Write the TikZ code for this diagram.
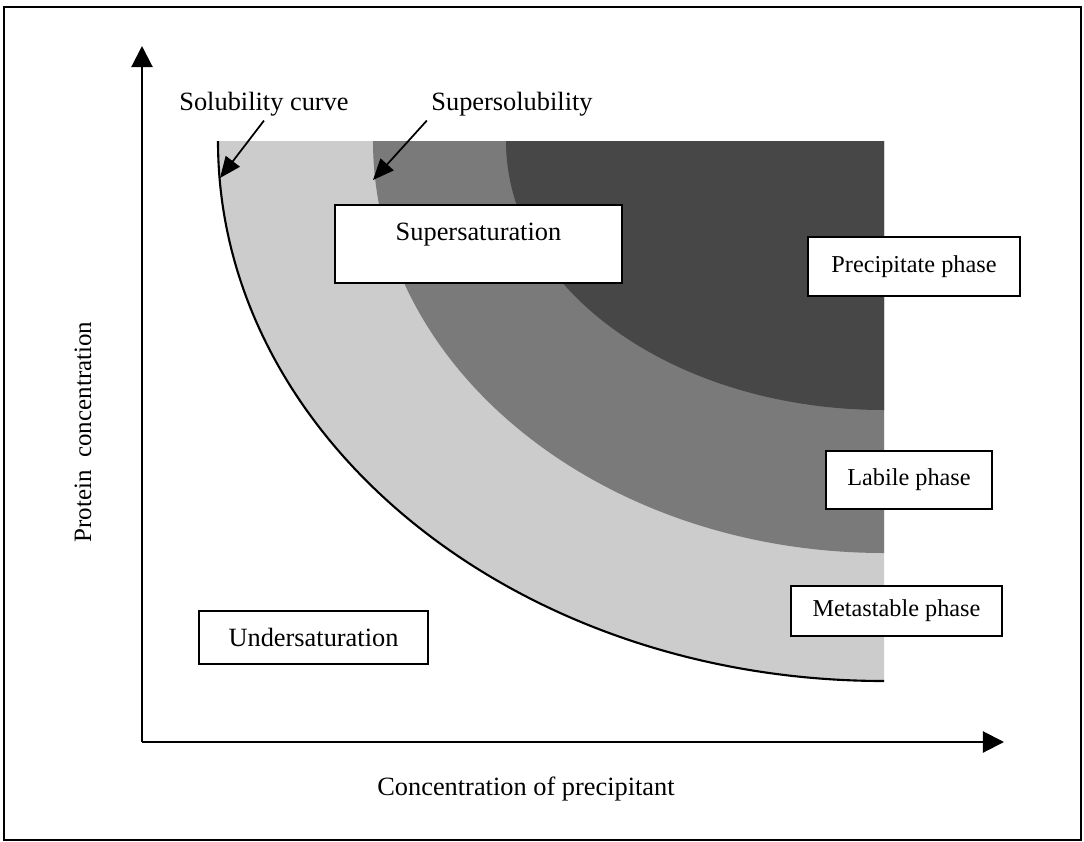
\documentclass[tikz,border=0pt]{standalone}
\usepackage{fontspec}
\setmainfont{Liberation Serif}
\usetikzlibrary{arrows.meta}
\tikzset{geometry/.style={line width=0.6pt}}
\tikzset{metastable/.style={fill=black!20!white, draw=none}}
\tikzset{labile/.style={fill=black!52!white, draw=none}}
\tikzset{precipitate/.style={fill=black!72!white, draw=none}}
\tikzset{phasebox/.style={draw=black, fill=white, inner sep=0pt}}
\tikzset{sidebox/.style={phasebox, font=\fontsize{6.9}{8}\selectfont}}
\tikzset{axis/.style={-{Triangle[length=6pt,width=6pt]}}}
\tikzset{pointer/.style={-{Triangle[length=6pt,width=5pt]}, line width=0.5pt}}

\begin{document}
\begin{tikzpicture}[geometry, x=0.01cm, y=-0.01cm, font=\fontsize{7.5}{9}\selectfont]
\useasboundingbox (0,0) rectangle (1084,842);
\draw (4,7) rectangle (1081,840);

% phase regions (quarter ellipses round the corner (884,141))
\fill[metastable] (218,141) -- (884,141) -- (884,681) .. controls (516,681) and (218,439) .. (218,141);
\fill[labile] (373,141) .. controls (373,369) and (602,553) .. (884,553) -- (884,141) -- cycle;
\fill[precipitate] (506,141) .. controls (506,290) and (675,410) .. (884,410) -- (884,141) -- cycle;
% solubility curve
\draw (218,141) .. controls (218,439) and (516,681) .. (884,681);

% axes
\coordinate (origin) at (142,742);
\coordinate (y axis) at (142,46);
\coordinate (x axis) at (1004,742);
\draw[axis] (origin) -- (y axis);
\draw[axis] (origin) -- (x axis);
\node (xlabel) at (526,789) {Concentration of precipitant};
\node[rotate=90,font=\fontsize{7.1}{8}\selectfont] (ylabel) at (83,432) {Protein~ concentration};

% curve labels
\node[inner sep=1pt] (solLabel) at (264,104) {Solubility curve};
\node[inner sep=1pt] (supLabel) at (512,104) {Supersolubility};
\coordinate (solTip) at (220,178);
\coordinate (supTip) at (373,180);
\draw[pointer] (solLabel.south) -- (solTip);
\draw[pointer] (supLabel.south west) -- (supTip);

% phases
\node[phasebox, minimum width=2.87cm, minimum height=0.78cm, text depth=0.24cm] (supersat) at (478.5,244) {Supersaturation};
\node[sidebox, minimum width=2.12cm, minimum height=0.59cm] (precip) at (914,266.5) {Precipitate phase};
\node[sidebox, minimum width=1.66cm, minimum height=0.58cm] (labile) at (909,480) {Labile phase};
\node[sidebox, minimum width=2.11cm, minimum height=0.50cm] (metastable) at (896.5,611) {Metastable phase};
\node[phasebox, minimum width=2.29cm, minimum height=0.53cm] (undersat) at (313.5,637.5) {Undersaturation};
\end{tikzpicture}
\end{document}
